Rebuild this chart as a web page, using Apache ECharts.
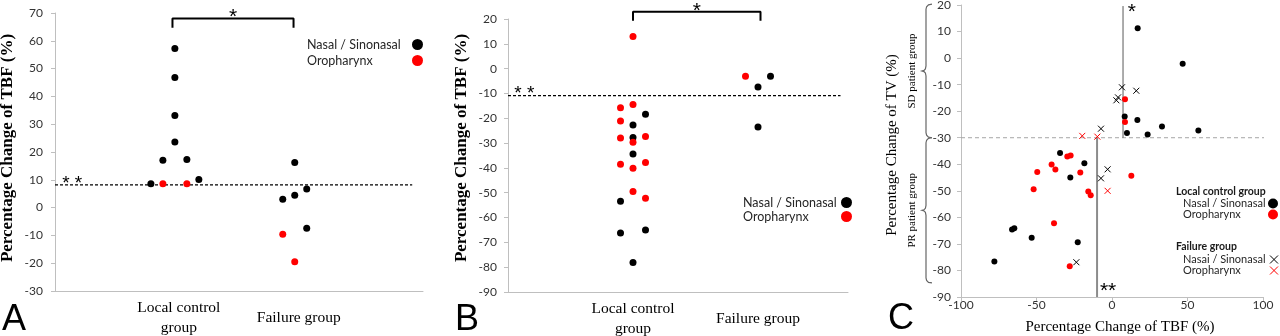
<!DOCTYPE html>
<html><head><meta charset="utf-8">
<script src="https://cdn.jsdelivr.net/npm/echarts@6/dist/echarts.min.js"></script>
<style>html,body{margin:0;padding:0;background:#fff}#c{width:1280px;height:336px}</style>
</head><body><div id="c"></div>
<script>
// ---------------- data ----------------
const groupNames = ['Local control\ngroup', 'Failure group'];

// Panel A (SD patient group): percentage change of TBF
const aNasal = [[1.0,57.2],[1.0,46.8],[1.0,33.1],[1.0,23.6],[0.9,17.0],[1.1,17.3],[0.8,8.6],[1.2,10.1],
                [2.0,16.2],[1.9,3.0],[2.0,4.4],[2.1,6.7],[2.1,-7.4]];
const aOro = [[0.9,8.6],[1.1,8.6],[1.9,-9.6],[2.0,-19.5]];
const aYTicks = [-30,-20,-10,0,10,20,30,40,50,60,70];
const aCutoff = 8.2;
const aBracket = [[0.98,64.7],[0.98,68],[1.99,68],[1.99,64.7]];

// Panel B (PR patient group): percentage change of TBF
const bNasal = [[1.1,-18.4],[1.0,-22.7],[1.0,-27.7],[1.0,-34.4],[0.9,-53.4],[0.9,-66.2],[1.1,-65.0],[1.0,-78.1],
                [2.1,-3.1],[2.0,-7.4],[2.0,-23.5]];
const bOro = [[1.0,12.9],[0.9,-15.8],[1.0,-14.5],[0.9,-21.1],[0.9,-27.9],[1.1,-27.3],[1.0,-29.7],[0.9,-38.5],
              [1.0,-40.1],[1.1,-37.8],[1.0,-49.5],[1.1,-52.2],[1.9,-3.1]];
const bYTicks = [-90,-80,-70,-60,-50,-40,-30,-20,-10,0,10,20];
const bCutoff = -10.9;
const bBracket = [[1.0,19.3],[1.0,22.9],[2.02,22.9],[2.02,19.3]];

// Panel C: TBF change (x) vs TV change (y)
const cLocalNasal = [[17.0,11.2],[46.8,-2.1],[8.4,-22.0],[16.8,-23.3],[33.1,-25.8],[57.2,-27.3],[9.9,-28.2],[23.6,-28.8],
                     [-34.4,-35.8],[-18.3,-39.6],[-27.6,-45.0],[-66.2,-64.6],[-64.7,-64.1],[-53.2,-67.7],[-22.7,-69.4],[-77.9,-76.6]];
const cLocalOro = [[8.6,-15.5],[8.6,-24.1],[-29.6,-37.1],[-27.4,-36.7],[-40.0,-40.1],[-49.5,-42.9],[-37.5,-42.0],[-21.0,-43.1],
                   [-51.9,-49.4],[-15.7,-50.3],[-14.1,-51.7],[12.8,-44.3],[-38.4,-62.2],[-28.0,-78.4]];
const cFailNasal = [[6.6,-11.0],[16.1,-12.3],[4.0,-14.8],[2.9,-15.9],[-7.3,-26.6],[-2.9,-41.9],[-7.3,-45.3],[-23.6,-76.9]];
const cFailOro = [[-19.7,-29.3],[-9.7,-29.6],[-2.9,-50.0]];
const cXTicks = [-100,-50,0,50,100];
const cYTicks = [-90,-80,-70,-60,-50,-40,-30,-20,-10,0,10,20];
const cTVCut = -30;
const cSDCutLine = [[7.3,-30],[7.3,19.6]];
const cPRCutLine = [[-9.9,-30],[-9.9,-90]];
const cTVCutLine = [[-100,cTVCut],[107,cTVCut]];
const cBraceSD = [20.3,-30];
const cBracePR = [-30,-84.7];

// ---------------- chart ----------------
const SANS = 'Lato, "Noto Sans", sans-serif';
const SERIF = '"Liberation Serif", "DejaVu Serif", serif';
const AX = '#bfbfbf';
const RED = '#ff0000';
const CROSS = 'path://M0,0L10,10M10,0L0,10';

const chart = echarts.init(document.getElementById('c'));

function groupFmt(v){
  const r = Math.round(v);
  if (Math.abs(v - r) > 1e-6) return '';
  return groupNames[r - 1] || '';
}
function step(t){ return t[1] - t[0]; }

function catX(gi, max, shift){
  return {gridIndex: gi, type:'value', min:0, max:max, interval:1,
    axisLine:{show:true, onZero:false, lineStyle:{color:AX, width:1}},
    axisTick:{show:false}, splitLine:{show:false},
    axisLabel:{formatter:groupFmt, fontFamily:SERIF, fontSize:15.5, color:'#000', lineHeight:20,
               verticalAlign:'middle', margin:27, padding:[0,0,0,shift], showMinLabel:false, showMaxLabel:false}};
}
function valY(gi, ticks, margin){
  return {gridIndex: gi, type:'value', min:ticks[0], max:ticks[ticks.length-1], interval:step(ticks),
    axisLine:{show:true, onZero:false, lineStyle:{color:AX, width:1}},
    axisTick:{show:true, length:4, lineStyle:{color:AX}}, splitLine:{show:false},
    axisLabel:{fontFamily:SANS, fontSize:12, color:'#333', margin:margin}};
}
function dots(name, gi, data, color, size){
  return {type:'scatter', name:name, xAxisIndex:gi, yAxisIndex:gi, data:data, symbol:'circle',
          symbolSize:size, itemStyle:{color:color, opacity:1}, z:3};
}
function crosses(name, gi, data, color){
  return {type:'scatter', name:name, xAxisIndex:gi, yAxisIndex:gi, data:data, symbol:CROSS,
          symbolSize:6, itemStyle:{color:color, borderColor:color, borderWidth:1, opacity:1}, z:3};
}
function guide(gi, data, style){
  return {type:'line', xAxisIndex:gi, yAxisIndex:gi, data:data, symbol:'none', silent:true,
          clip:false, lineStyle:style, z:2, tooltip:{show:false}};
}
function legendOf(left, top, textW, fs, icon, gap, data){
  return {orient:'vertical', align:'right', selectedMode:false, padding:0, left:left, top:top,
    itemWidth:icon, itemHeight:icon, itemGap:gap,
    formatter: function(n){ return '{t|' + n + '}'; },
    textStyle:{fontFamily:SANS, fontSize:fs, color:'#262626',
      rich:{t:{width:textW, align:'left', fontFamily:SANS, fontSize:fs, color:'#262626', lineHeight:14}}},
    data:data};
}
const dotItems = [{name:'Nasal / Sinonasal', icon:'circle'}, {name:'Oropharynx', icon:'circle'}];

chart.setOption({
  animation:false,
  grid:[
    {left:55, top:13, width:368, height:278, outerBoundsMode:'none'},
    {left:508, top:19, width:340, height:273, outerBoundsMode:'none'},
    {left:961, top:5, width:302, height:292, outerBoundsMode:'none'}
  ],
  xAxis:[
    catX(0, 3.07, 8),
    catX(1, 2.72, 0),
    {gridIndex:2, type:'value', min:cXTicks[0], max:cXTicks[cXTicks.length-1], interval:step(cXTicks),
     axisLine:{show:true, onZero:false, lineStyle:{color:AX}}, axisTick:{show:true, length:4, lineStyle:{color:AX}},
     splitLine:{show:false}, axisLabel:{fontFamily:SANS, fontSize:12, color:'#333', margin:8, verticalAlign:'middle'}}
  ],
  yAxis:[ valY(0, aYTicks, 12), valY(1, bYTicks, 11), valY(2, cYTicks, 10) ],
  legend:[
    legendOf(307, 38, 100, 12.5, 11, 3, dotItems),
    legendOf(743, 196, 93, 12.5, 11, 1, dotItems),
    legendOf(1183, 198, 80, 11, 10, 0, dotItems),
    legendOf(1183, 254, 82, 11, 8, 0,
      [{name:'Nasai / Sinonasal', icon:CROSS, itemStyle:{color:'#000', borderColor:'#000', borderWidth:1}},
       {name:'Oropharynx', icon:CROSS, itemStyle:{color:RED, borderColor:RED, borderWidth:1}}])
  ],
  series:[
    guide(0, [[0,aCutoff],[2.98,aCutoff]], {color:'#000', width:1.2, type:[3,2]}),
    guide(0, aBracket, {color:'#000', width:2}),
    dots('Nasal / Sinonasal', 0, aNasal, '#000', 7),
    dots('Oropharynx', 0, aOro, RED, 7),

    guide(1, [[0,bCutoff],[2.66,bCutoff]], {color:'#000', width:1.2, type:[3,2]}),
    guide(1, bBracket, {color:'#000', width:2}),
    dots('Nasal / Sinonasal', 1, bNasal, '#000', 7),
    dots('Oropharynx', 1, bOro, RED, 7),

    guide(2, cTVCutLine, {color:'#a6a6a6', width:1, type:[4,3]}),
    guide(2, cSDCutLine, {color:'#595959', width:1}),
    guide(2, cPRCutLine, {color:'#8c8c8c', width:2}),
    dots('Nasal / Sinonasal', 2, cLocalNasal, '#000', 6),
    dots('Oropharynx', 2, cLocalOro, RED, 6),
    crosses('Nasai / Sinonasal', 2, cFailNasal, '#000'),
    crosses('Oropharynx', 2, cFailOro, RED)
  ]
});

// ---------------- annotations anchored to data coordinates ----------------
function px(g, p){ return chart.convertToPixel({gridIndex:g}, p); }
function txt(x, y, s, size, opts){
  return Object.assign({type:'text', x:x, y:y, silent:true, z:10,
    style:Object.assign({text:s, fontFamily:'"Liberation Sans", Arial, sans-serif', fontSize:size, fill:'#000',
                         align:'center', verticalAlign:'middle'}, (opts && opts.style) || {})},
    (opts && opts.el) || {});
}
function brace(g, range, x){
  const t = px(g, [0, range[0]])[1], b = px(g, [0, range[1]])[1], m = (t + b) / 2;
  return {type:'polyline', silent:true, z:10,
    shape:{points:[[x+6,t],[x+2.5,t+0.6],[x+0.6,t+2.5],[x,t+5],[x,m-5],[x-0.6,m-2],[x-2,m-0.6],[x-4,m],
                   [x-2,m+0.6],[x-0.6,m+2],[x,m+5],[x,b-5],[x+0.6,b-2.5],[x+2.5,b-0.6],[x+6,b]]},
    style:{fill:null, stroke:'#666', lineWidth:1.2}};
}

const aTop = px(0, [(aBracket[1][0]+aBracket[2][0])/2, aBracket[1][1]]);
const aCut = px(0, [0.06, aCutoff]);
const bTop = px(1, [(bBracket[1][0]+bBracket[2][0])/2, bBracket[1][1]]);
const bCut = px(1, [0.05, bCutoff]);
const cTop = px(2, [13.2, cSDCutLine[1][1]]);
const cBot = px(2, [-8, -88]);
const sdMid = (px(2,[0,cBraceSD[0]])[1] + px(2,[0,cBraceSD[1]])[1]) / 2;
const prMid = (px(2,[0,cBracePR[0]])[1] + px(2,[0,cBracePR[1]])[1]) / 2;

chart.setOption({graphic:[
  // y-axis titles
  txt(8, 148, 'Percentage Change of TBF (%)', 17, {el:{rotation:Math.PI/2},
      style:{fontFamily:SERIF, fontWeight:'bold'}}),
  txt(462, 148, 'Percentage Change of TBF (%)', 17, {el:{rotation:Math.PI/2},
      style:{fontFamily:SERIF, fontWeight:'bold'}}),
  txt(892, 145, 'Percentage Change of TV (%)', 15, {el:{rotation:Math.PI/2}, style:{fontFamily:SERIF}}),
  txt(1120, 327, 'Percentage Change of TBF (%)', 15, {style:{fontFamily:SERIF}}),
  // group braces in panel C
  brace(2, cBraceSD, 926),
  brace(2, cBracePR, 926),
  txt(912, sdMid, 'SD patient group', 11, {el:{rotation:Math.PI/2}, style:{fontFamily:SERIF}}),
  txt(912, prMid, 'PR patient group', 11, {el:{rotation:Math.PI/2}, style:{fontFamily:SERIF}}),
  // significance marks
  txt(aTop[0], aTop[1] - 1.5, '*', 21),
  txt(aCut[0], aCut[1] - 1, '* *', 19, {style:{align:'left'}}),
  txt(bTop[0], bTop[1] - 0.7, '*', 21),
  txt(bCut[0], bCut[1] - 1.7, '* *', 19, {style:{align:'left'}}),
  txt(cTop[0], cTop[1] + 6.5, '*', 21),
  txt(cBot[0], cBot[1], '**', 21, {style:{align:'left'}}),
  // legend headers for panel C
  txt(1176, 192, 'Local control group', 10.5, {style:{fontFamily:SANS, fontWeight:'bold', align:'left', fill:'#1a1a1a'}}),
  txt(1176, 247, 'Failure group', 10.5, {style:{fontFamily:SANS, fontWeight:'bold', align:'left', fill:'#1a1a1a'}}),
  // panel letters
  txt(2, 320, 'A', 36, {style:{align:'left'}}),
  txt(455, 320, 'B', 36, {style:{align:'left'}}),
  txt(888, 319, 'C', 36, {style:{align:'left'}})
]});
</script>
</body></html>
